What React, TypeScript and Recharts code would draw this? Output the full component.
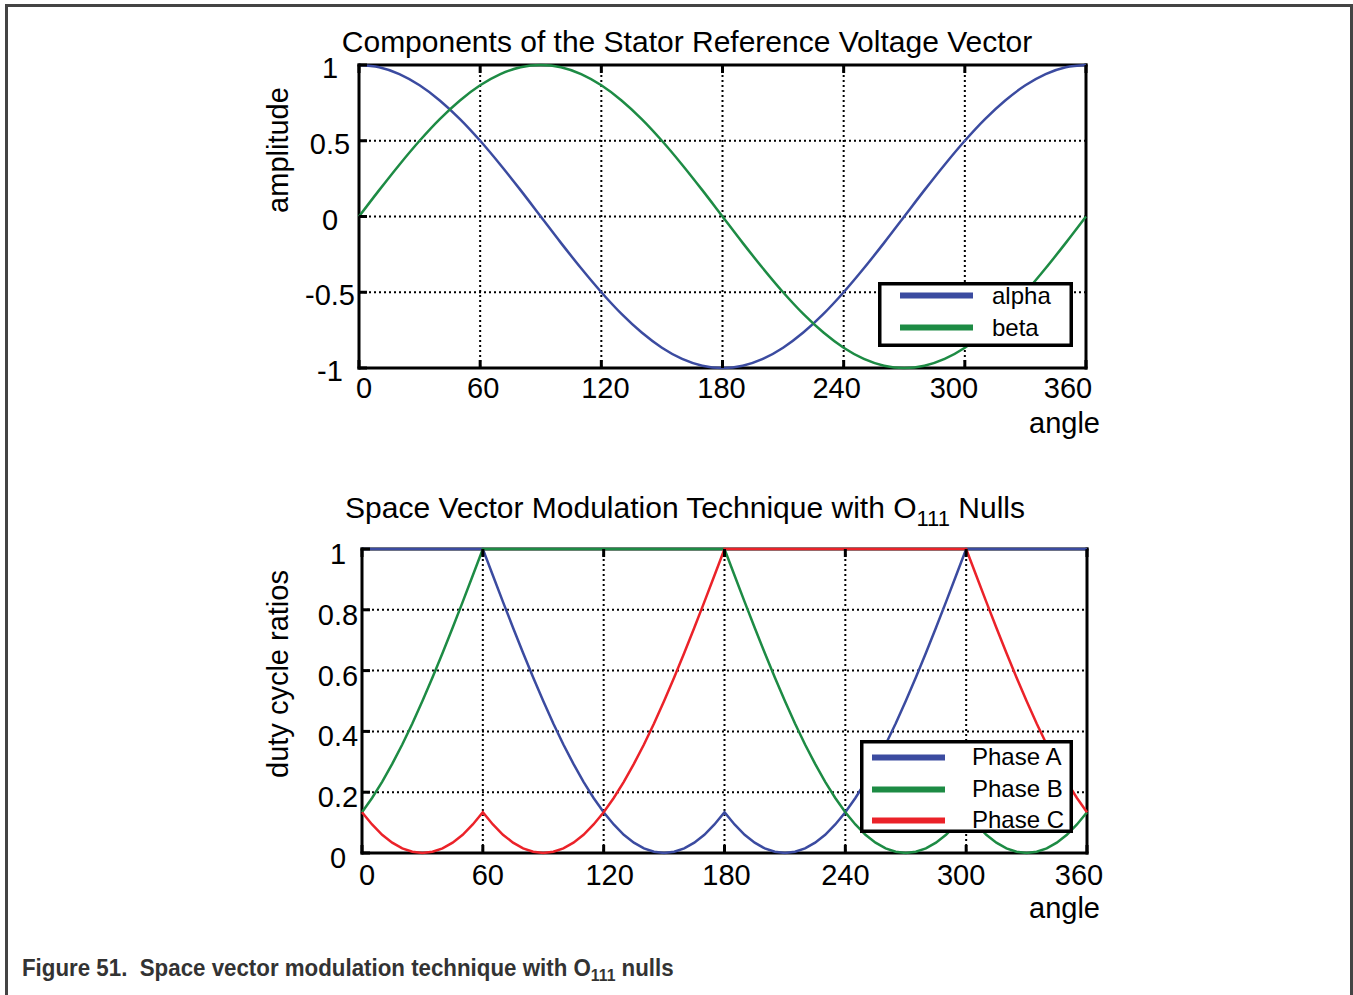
import React from 'react';
import { LineChart, Line, XAxis, YAxis, CartesianGrid, Legend } from 'recharts';

// top plot: one sample every 10 degrees
const componentAngles = [
  0, 10, 20, 30, 40, 50, 60, 70, 80, 90, 100, 110, 120, 130, 140, 150, 160, 170, 180,
  190, 200, 210, 220, 230, 240, 250, 260, 270, 280, 290, 300, 310, 320, 330, 340, 350, 360,
];
const alpha = [
  1, 0.985, 0.94, 0.866, 0.766, 0.643, 0.5, 0.342, 0.174, 0, -0.174, -0.342, -0.5, -0.643, -0.766, -0.866, -0.94, -0.985, -1,
  -0.985, -0.94, -0.866, -0.766, -0.643, -0.5, -0.342, -0.174, 0, 0.174, 0.342, 0.5, 0.643, 0.766, 0.866, 0.94, 0.985, 1,
];
const beta = [
  0, 0.174, 0.342, 0.5, 0.643, 0.766, 0.866, 0.94, 0.985, 1, 0.985, 0.94, 0.866, 0.766, 0.643, 0.5, 0.342, 0.174, 0,
  -0.174, -0.342, -0.5, -0.643, -0.766, -0.866, -0.94, -0.985, -1, -0.985, -0.94, -0.866, -0.766, -0.643, -0.5, -0.342, -0.174, 0,
];

// bottom plot: one sample every 5 degrees
const dutyAngles = [
  0, 5, 10, 15, 20, 25, 30, 35, 40, 45, 50, 55, 60, 65, 70, 75, 80, 85, 90, 95, 100, 105, 110, 115, 120,
  125, 130, 135, 140, 145, 150, 155, 160, 165, 170, 175, 180, 185, 190, 195, 200, 205, 210, 215, 220, 225, 230, 235, 240,
  245, 250, 255, 260, 265, 270, 275, 280, 285, 290, 295, 300, 305, 310, 315, 320, 325, 330, 335, 340, 345, 350, 355, 360,
];
const phaseA = [
  1, 1, 1, 1, 1, 1, 1, 1, 1, 1, 1, 1, 1,
  0.913, 0.826, 0.741, 0.658, 0.577, 0.5, 0.426, 0.357, 0.293, 0.234, 0.181, 0.134,
  0.094, 0.06, 0.034, 0.015, 0.004, 0, 0.004, 0.015, 0.034, 0.06, 0.094, 0.134,
  0.094, 0.06, 0.034, 0.015, 0.004, 0, 0.004, 0.015, 0.034, 0.06, 0.094, 0.134,
  0.181, 0.234, 0.293, 0.357, 0.426, 0.5, 0.577, 0.658, 0.741, 0.826, 0.913, 1,
  1, 1, 1, 1, 1, 1, 1, 1, 1, 1, 1, 1,
];
const phaseB = [
  0.134, 0.181, 0.234, 0.293, 0.357, 0.426, 0.5, 0.577, 0.658, 0.741, 0.826, 0.913, 1,
  1, 1, 1, 1, 1, 1, 1, 1, 1, 1, 1, 1,
  1, 1, 1, 1, 1, 1, 1, 1, 1, 1, 1, 1,
  0.913, 0.826, 0.741, 0.658, 0.577, 0.5, 0.426, 0.357, 0.293, 0.234, 0.181, 0.134,
  0.094, 0.06, 0.034, 0.015, 0.004, 0, 0.004, 0.015, 0.034, 0.06, 0.094, 0.134,
  0.094, 0.06, 0.034, 0.015, 0.004, 0, 0.004, 0.015, 0.034, 0.06, 0.094, 0.134,
];
const phaseC = [
  0.134, 0.094, 0.06, 0.034, 0.015, 0.004, 0, 0.004, 0.015, 0.034, 0.06, 0.094, 0.134,
  0.094, 0.06, 0.034, 0.015, 0.004, 0, 0.004, 0.015, 0.034, 0.06, 0.094, 0.134,
  0.181, 0.234, 0.293, 0.357, 0.426, 0.5, 0.577, 0.658, 0.741, 0.826, 0.913, 1,
  1, 1, 1, 1, 1, 1, 1, 1, 1, 1, 1, 1,
  1, 1, 1, 1, 1, 1, 1, 1, 1, 1, 1, 1,
  0.913, 0.826, 0.741, 0.658, 0.577, 0.5, 0.426, 0.357, 0.293, 0.234, 0.181, 0.134,
];

const angleTicks = [0, 60, 120, 180, 240, 300, 360];
const amplitudeTicks = [-1, -0.5, 0, 0.5, 1];
const dutyTicks = [0, 0.2, 0.4, 0.6, 0.8, 1];

const FONT = '"Liberation Sans", Arial, Helvetica, sans-serif';
const BLUE = '#3b4ba0';
const GREEN = '#1d8b44';
const RED = '#eb2229';

// the exported figure puts the angle labels a little off their ticks
const TOP_LABEL_SHIFT = [5, 3, 4, -1, -7, -11, -18];
const BOTTOM_LABEL_SHIFT = [5, 5, 6, 2, 0, -5, -8];

const componentRows = componentAngles.map((angle, i) => ({ angle, alpha: alpha[i], beta: beta[i] }));
const dutyRows = dutyAngles.map((angle, i) => ({ angle, a: phaseA[i], b: phaseB[i], c: phaseC[i] }));

type TickProps = { x?: number; y?: number; payload?: { value: number } };

const frameLine = { stroke: '#000', strokeWidth: 3, strokeLinecap: 'square' as const };
// curves sit on top of the box, as in the exported figure
const CURVE_Z = 550;

function AngleTick({ x = 0, y = 0, payload, shifts, labelDy }: TickProps & { shifts: number[]; labelDy: number }) {
  const value = payload?.value ?? 0;
  const idx = angleTicks.indexOf(value);
  return (
    <g>
      <line x1={x} y1={y} x2={x} y2={y - 8} stroke="#000" strokeWidth={3} />
      <text x={x + (shifts[idx] ?? 0)} y={y + labelDy} textAnchor="middle" fontSize={29} fontFamily={FONT} fill="#000">
        {value}
      </text>
    </g>
  );
}

function TopMark({ x = 0, y = 0 }: TickProps) {
  return <line x1={x} y1={y} x2={x} y2={y + 8} stroke="#000" strokeWidth={3} />;
}

function RightMark({ x = 0, y = 0 }: TickProps) {
  return <line x1={x} y1={y} x2={x - 8} y2={y} stroke="#000" strokeWidth={3} />;
}

function ValueTick({ x = 0, y = 0, payload, labelDx, labelDy }: TickProps & { labelDx: number; labelDy: number }) {
  const value = payload?.value ?? 0;
  return (
    <g>
      <line x1={x} y1={y} x2={x + 8} y2={y} stroke="#000" strokeWidth={3} />
      <text x={x + labelDx} y={y + labelDy} textAnchor="middle" fontSize={29} fontFamily={FONT} fill="#000">
        {value}
      </text>
    </g>
  );
}

type LegendItem = { value?: string; color?: string };

function LegendBox({ payload, width, height, rows, lineFrom, lineTo, textX, textDy, fontSize }: {
  payload?: LegendItem[]; width: number; height: number; rows: number[];
  lineFrom: number; lineTo: number; textX: number; textDy: number; fontSize: number;
}) {
  return (
    <svg width={width} height={height} style={{ display: 'block' }}>
      <rect x={1.75} y={1.75} width={width - 3.5} height={height - 3.5} fill="#fff" stroke="#000" strokeWidth={3.5} />
      {(payload ?? []).map((item, i) => (
        <g key={i}>
          <line x1={lineFrom} x2={lineTo} y1={rows[i]} y2={rows[i]} stroke={item.color} strokeWidth={6} />
          <text x={textX} y={rows[i] + textDy} fontSize={fontSize} fontFamily={FONT} fill="#000">{item.value}</text>
        </g>
      ))}
    </svg>
  );
}

function ComponentsChart() {
  return (
    <LineChart width={1353} height={450} data={componentRows} margin={{ top: 64, right: 266, bottom: 42, left: 299 }}>
      <CartesianGrid stroke="#000" strokeWidth={2} strokeDasharray="2 3" />
      <XAxis dataKey="angle" type="number" domain={[0, 360]} ticks={angleTicks} interval={0} height={40}
        axisLine={frameLine} tickLine={false} tickSize={0} tickMargin={0}
        tick={(p: TickProps) => <AngleTick {...p} shifts={TOP_LABEL_SHIFT} labelDy={30} />} />
      <XAxis xAxisId="top" orientation="top" dataKey="angle" type="number" domain={[0, 360]} ticks={angleTicks} interval={0}
        height={1} axisLine={frameLine} tickLine={false} tickSize={0} tickMargin={0} tick={(p: TickProps) => <TopMark {...p} />} />
      <YAxis type="number" domain={[-1, 1]} ticks={amplitudeTicks} interval={0} width={60}
        axisLine={frameLine} tickLine={false} tickSize={0} tickMargin={0}
        tick={(p: TickProps) => <ValueTick {...p} labelDx={-29} labelDy={13} />} />
      <YAxis yAxisId="right" orientation="right" type="number" domain={[-1, 1]} ticks={amplitudeTicks} interval={0} width={1}
        axisLine={frameLine} tickLine={false} tickSize={0} tickMargin={0} tick={(p: TickProps) => <RightMark {...p} />} />
      <Line type="monotone" dataKey="alpha" name="alpha" stroke={BLUE} strokeWidth={2.5} dot={false} activeDot={false}
        isAnimationActive={false} zIndex={CURVE_Z} />
      <Line type="monotone" dataKey="beta" name="beta" stroke={GREEN} strokeWidth={2.5} dot={false} activeDot={false}
        isAnimationActive={false} zIndex={CURVE_Z} />
      <Legend layout="vertical" align="center" verticalAlign="middle"
        wrapperStyle={{ left: 878, top: 282, width: 195, height: 65 }}
        content={(props: { payload?: LegendItem[] }) => (
          <LegendBox payload={props.payload} width={195} height={65} rows={[13.5, 45.5]}
            lineFrom={22} lineTo={95} textX={114} textDy={8} fontSize={24} />
        )} />
    </LineChart>
  );
}

function DutyChart() {
  return (
    <LineChart width={1353} height={480} data={dutyRows} margin={{ top: 88, right: 265, bottom: 47, left: 302 }}>
      <CartesianGrid stroke="#000" strokeWidth={2} strokeDasharray="2 3" />
      <XAxis dataKey="angle" type="number" domain={[0, 360]} ticks={angleTicks} interval={0} height={40}
        axisLine={frameLine} tickLine={false} tickSize={0} tickMargin={0}
        tick={(p: TickProps) => <AngleTick {...p} shifts={BOTTOM_LABEL_SHIFT} labelDy={32} />} />
      <XAxis xAxisId="top" orientation="top" dataKey="angle" type="number" domain={[0, 360]} ticks={angleTicks} interval={0}
        height={1} axisLine={frameLine} tickLine={false} tickSize={0} tickMargin={0} tick={(p: TickProps) => <TopMark {...p} />} />
      <YAxis type="number" domain={[0, 1]} ticks={dutyTicks} interval={0} width={60}
        axisLine={frameLine} tickLine={false} tickSize={0} tickMargin={0}
        tick={(p: TickProps) => <ValueTick {...p} labelDx={-24} labelDy={15} />} />
      <YAxis yAxisId="right" orientation="right" type="number" domain={[0, 1]} ticks={dutyTicks} interval={0} width={1}
        axisLine={frameLine} tickLine={false} tickSize={0} tickMargin={0} tick={(p: TickProps) => <RightMark {...p} />} />
      <Line type="linear" dataKey="a" name="Phase A" stroke={BLUE} strokeWidth={2.5} dot={false} activeDot={false}
        isAnimationActive={false} zIndex={CURVE_Z} />
      <Line type="linear" dataKey="b" name="Phase B" stroke={GREEN} strokeWidth={2.5} dot={false} activeDot={false}
        isAnimationActive={false} zIndex={CURVE_Z} />
      <Line type="linear" dataKey="c" name="Phase C" stroke={RED} strokeWidth={2.5} dot={false} activeDot={false}
        isAnimationActive={false} zIndex={CURVE_Z} />
      <Legend layout="vertical" align="center" verticalAlign="middle"
        wrapperStyle={{ left: 860, top: 280, width: 213, height: 93 }}
        content={(props: { payload?: LegendItem[] }) => (
          <LegendBox payload={props.payload} width={213} height={93} rows={[17.5, 49.5, 80.5]}
            lineFrom={12} lineTo={85} textX={112} textDy={7} fontSize={24} />
        )} />
    </LineChart>
  );
}

export default function App() {
  return (
    <div style={{ position: 'absolute', left: 0, top: 0, width: 1353, height: 995, background: '#fff', overflow: 'hidden' }}>
      <div style={{
        position: 'absolute', left: 5, top: 4, width: 1348, height: 991, boxSizing: 'border-box',
        borderTop: '3px solid #444', borderLeft: '3px solid #444', borderRight: '3px solid #444',
      }} />
      <div style={{ position: 'absolute', left: 0, top: 0 }}>
        <ComponentsChart />
      </div>
      <div style={{ position: 'absolute', left: 0, top: 460 }}>
        <DutyChart />
      </div>
      <svg width={1353} height={995} style={{ position: 'absolute', left: 0, top: 0, pointerEvents: 'none' }}>
        <g fontFamily={FONT} fill="#000">
          <text x={687} y={52} fontSize={30} textAnchor="middle">Components of the Stator Reference Voltage Vector</text>
          <text x={288} y={150} fontSize={29} textAnchor="middle" transform="rotate(-90 288 150)">amplitude</text>
          <text x={1100} y={433} fontSize={29} textAnchor="end">angle</text>
          <text x={685} y={518} fontSize={30} textAnchor="middle">
            Space Vector Modulation Technique with O<tspan fontSize={22} dy={8}>111</tspan><tspan dy={-8}> Nulls</tspan>
          </text>
          <text x={288} y={674} fontSize={29} textAnchor="middle" transform="rotate(-90 288 674)">duty cycle ratios</text>
          <text x={1100} y={918} fontSize={29} textAnchor="end">angle</text>
        </g>
        <g transform="translate(22 976) scale(0.93 1)">
          <text x={0} y={0} fontFamily={FONT} fontSize={24} fontWeight="bold" fill="#333" style={{ whiteSpace: 'pre' }}>
            {'Figure 51.  Space vector modulation technique with O'}<tspan fontSize={17} dy={5}>111</tspan><tspan dy={-5}>{' nulls'}</tspan>
          </text>
        </g>
      </svg>
    </div>
  );
}
